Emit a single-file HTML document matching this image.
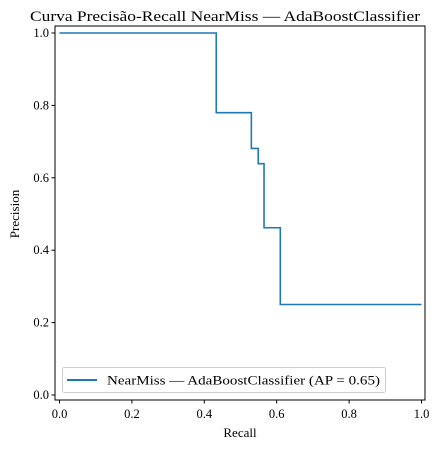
<!DOCTYPE html>
<html><head><meta charset="utf-8"><style>
body{margin:0;background:#fff;}
svg text{font-family:"Liberation Serif",serif;fill:#000;}
</style></head><body>
<svg id="chart" width="444" height="449" viewBox="0 0 444 449">
<text x="30" y="21" font-size="14.5" textLength="390" lengthAdjust="spacingAndGlyphs">Curva Precisão-Recall NearMiss — AdaBoostClassifier</text>
<g id="plot"></g>
<rect x="55" y="26" width="370" height="374" fill="none" stroke="#000" stroke-width="1"/>
<text x="240" y="437" font-size="13" text-anchor="middle">Recall</text>
<text transform="translate(19,214) rotate(-90)" font-size="13" text-anchor="middle">Precision</text>
<g>
<rect x="62.5" y="367.5" width="323" height="25" rx="2" fill="#fff" fill-opacity="0.8" stroke="#ccc"/>
<line x1="67" y1="380" x2="97" y2="380" stroke="#1f77b4" stroke-width="2"/>
<text x="107" y="384.5" font-size="12.5" textLength="273" lengthAdjust="spacingAndGlyphs">NearMiss — AdaBoostClassifier (AP = 0.65)</text>
</g>
</svg>
<script>
const recall = [0, 0.433, 0.53, 0.549, 0.565, 0.61, 1.0];
const precision = [1.0, 0.78, 0.681, 0.639, 0.462, 0.25];
const xTicks = [0, 0.2, 0.4, 0.6, 0.8, 1.0];
const yTicks = [0, 0.2, 0.4, 0.6, 0.8, 1.0];
const xTickLabels = ["0.0","0.2","0.4","0.6","0.8","1.0"];
const yTickLabels = ["0.0","0.2","0.4","0.6","0.8","1.0"];
const NS = "http://www.w3.org/2000/svg";
const X = v => 59.5 + v * 362;
const Y = v => 395 - v * 362;
const g = document.getElementById('plot');
xTicks.forEach((t, i) => {
  const l = document.createElementNS(NS, 'line');
  l.setAttribute('x1', X(t)); l.setAttribute('x2', X(t));
  l.setAttribute('y1', 400); l.setAttribute('y2', 403.5);
  l.setAttribute('stroke', '#000');
  
  
  g.appendChild(l);
  const tx = document.createElementNS(NS, 'text');
  tx.setAttribute('x', X(t)); tx.setAttribute('y', 418);
  tx.setAttribute('font-size', '12.5'); tx.setAttribute('text-anchor', 'middle');
  tx.textContent = xTickLabels[i];
  
  
  g.appendChild(tx);
});
yTicks.forEach((t, i) => {
  const l = document.createElementNS(NS, 'line');
  l.setAttribute('x1', 51.5); l.setAttribute('x2', 55);
  l.setAttribute('y1', Y(t)); l.setAttribute('y2', Y(t));
  l.setAttribute('stroke', '#000');
  
  
  g.appendChild(l);
  const tx = document.createElementNS(NS, 'text');
  tx.setAttribute('x', 49); tx.setAttribute('y', Y(t) + 4);
  tx.setAttribute('font-size', '12.5'); tx.setAttribute('text-anchor', 'end');
  tx.textContent = yTickLabels[i];
  
  
  g.appendChild(tx);
});
let d = '';
for (let i = 0; i < precision.length; i++) {
  d += (i === 0 ? 'M' : 'L') + X(recall[i]) + ',' + Y(precision[i]) + ' L' + X(recall[i + 1]) + ',' + Y(precision[i]) + ' ';
}
const p = document.createElementNS(NS, 'path');
p.setAttribute('d', d);
p.setAttribute('fill', 'none');
p.setAttribute('stroke', '#1f77b4');
p.setAttribute('stroke-width', '1.6');


g.appendChild(p);
</script>
</body></html>
